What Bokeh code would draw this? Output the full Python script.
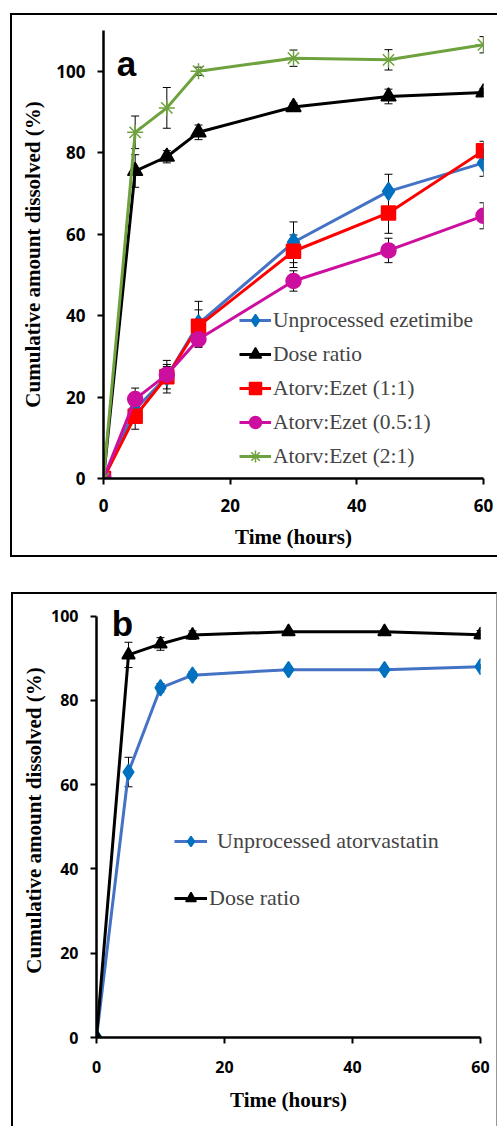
from math import pi
from bokeh.plotting import figure
from bokeh.models import (ColumnDataSource, Whisker, TeeHead, Legend, LegendItem,
                          FixedTicker, Range1d, Label, Spacer, InlineStyleSheet)
from bokeh.layouts import column, row
from bokeh.embed import file_html
from bokeh.resources import INLINE

# ---------------- data ----------------
time_h = [0, 5, 10, 15, 30, 45, 60]

# panel a : ezetimibe
eze_unprocessed = [0, 17, 25, 38, 58, 70.5, 77.5]
eze_unprocessed_err = [0, 3, 3, 5.5, 5, 4.2, 3.3]
eze_dose = [0, 75.5, 79, 85, 91.2, 93.8, 94.8]
eze_dose_err = [0, 4, 1.5, 1.8, 1, 1.8, 1]
eze_1_1 = [0, 15.3, 25, 37.4, 55.8, 65.2, 80.5]
eze_1_1_err = [0, 3.2, 4, 4, 4, 5, 2.3]
eze_05_1 = [0, 19.5, 25.5, 34.2, 48.5, 56, 64.5]
eze_05_1_err = [0, 2.7, 2, 2, 2.5, 3, 3.2]
eze_2_1 = [0, 85, 91, 100, 103.2, 102.8, 106.5]
eze_2_1_err = [0, 4, 5, 1, 2, 2.5, 2]

# panel b : atorvastatin
ator_unprocessed = [0, 63, 83, 86, 87.3, 87.3, 88]
ator_unprocessed_err = [0, 3.5, 1, 0.8, 0.5, 0.5, 0.5]
ator_dose = [0, 90.8, 93.4, 95.5, 96.3, 96.3, 95.6]
ator_dose_err = [0, 3, 1.5, 1, 0.5, 0.5, 1]

x_ticks = [0, 20, 40, 60]
y_ticks = [0, 20, 40, 60, 80, 100]

SERIF = "Liberation Serif"
SANS = "Open Sans"


def style_axes(p, tick_size, y_std, y_lab_std, x_std, x_lab_std):
    for ax in (p.xaxis[0], p.yaxis[0]):
        ax.axis_line_color = "black"
        ax.axis_line_width = 2.5
        ax.major_tick_line_color = "black"
        ax.major_tick_line_width = 2
        ax.major_tick_out = 6
        ax.major_tick_in = 0
        ax.minor_tick_line_color = None
        ax.major_label_text_font = SANS
        ax.major_label_text_font_style = "bold"
        ax.major_label_text_font_size = tick_size
        ax.major_label_text_color = "black"
        ax.axis_label_text_font = SERIF
        ax.axis_label_text_font_style = "bold"
        ax.axis_label_text_font_size = "21px"
        ax.axis_label_text_color = "black"
    p.xaxis.ticker = FixedTicker(ticks=x_ticks)
    p.yaxis.ticker = FixedTicker(ticks=y_ticks)
    p.xaxis.major_label_standoff = x_std
    p.yaxis.major_label_standoff = y_std
    p.xaxis.axis_label_standoff = x_lab_std
    p.yaxis.axis_label_standoff = y_lab_std
    p.xgrid.grid_line_color = None
    p.ygrid.grid_line_color = None
    p.outline_line_color = None
    p.background_fill_color = "white"
    p.border_fill_color = "white"


def add_series(p, y, err, line_color, marker, fill, size, lw=3):
    src = ColumnDataSource(dict(x=time_h, y=y))
    ex = [t for t, e in zip(time_h, err) if e > 0]
    ey = [v for v, e in zip(y, err) if e > 0]
    ee = [e for e in err if e > 0]
    esrc = ColumnDataSource(dict(x=ex, lo=[a - b for a, b in zip(ey, ee)],
                                 hi=[a + b for a, b in zip(ey, ee)]))
    r_line = p.line("x", "y", source=src, line_color=line_color, line_width=lw)
    r_mark = p.scatter("x", "y", source=src, marker=marker, size=size,
                       fill_color=fill, line_color=fill, line_width=1.5)
    w = Whisker(base="x", lower="lo", upper="hi", source=esrc,
                line_color="black", line_width=1,
                upper_head=TeeHead(size=8, line_color="black", line_width=1),
                lower_head=TeeHead(size=8, line_color="black", line_width=1))
    p.add_layout(w)
    return [r_line, r_mark]


# ---------------- panel a ----------------
pa = figure(width=487, height=544, x_range=Range1d(0, 60), y_range=Range1d(0, 110),
            output_backend="svg", toolbar_location=None,
            min_border_left=91, min_border_right=16, min_border_top=15, min_border_bottom=81,
            x_axis_label="Time (hours)", y_axis_label="Cumulative amount dissolved (%)")
pa.stylesheets = [InlineStyleSheet(css=":host { border: 2px solid black; border-right: none; box-sizing: border-box; }")]
style_axes(pa, "17px", y_std=12, y_lab_std=8, x_std=14, x_lab_std=10)
pa.yaxis.bounds = (0, 110)

ra1 = add_series(pa, eze_unprocessed, eze_unprocessed_err, "#4472C4", "diamond", "#0070C0", 18)
ra2 = add_series(pa, eze_dose, eze_dose_err, "black", "triangle", "black", 15)
ra3 = add_series(pa, eze_1_1, eze_1_1_err, "#FF0000", "square", "#FF0000", 14)
ra4 = add_series(pa, eze_05_1, eze_05_1_err, "#CC0F9E", "circle", "#CC0F9E", 15)
ra5 = add_series(pa, eze_2_1, eze_2_1_err, "#6EA23E", "asterisk", "#6EA23E", 16)

leg_a = Legend(items=[
    LegendItem(label="Unprocessed ezetimibe", renderers=ra1),
    LegendItem(label="Dose ratio", renderers=ra2),
    LegendItem(label="Atorv:Ezet (1:1)", renderers=ra3),
    LegendItem(label="Atorv:Ezet (0.5:1)", renderers=ra4),
    LegendItem(label="Atorv:Ezet (2:1)", renderers=ra5),
], location=(136, 7), padding=0, margin=0, spacing=4, glyph_width=32, glyph_height=30,
    label_standoff=2, label_text_font=SERIF, label_text_font_size="21.5px",
    background_fill_alpha=0, border_line_color=None)
pa.add_layout(leg_a)
pa.add_layout(Label(x=2.1, y=101.8, text="a", text_font="Liberation Sans", text_font_style="bold",
                    text_baseline="alphabetic", text_font_size="35px", text_color="black"))

# ---------------- panel b ----------------
pb = figure(width=486, height=534, x_range=Range1d(0, 60), y_range=Range1d(0, 103),
            output_backend="svg", toolbar_location=None,
            min_border_left=83, min_border_right=19, min_border_top=9, min_border_bottom=91,
            x_axis_label="Time (hours)", y_axis_label="Cumulative amount dissolved (%)")
pb.stylesheets = [InlineStyleSheet(css=":host { border-left: 2px solid black; border-top: 2px solid black; border-right: 1px solid #999; box-sizing: border-box; }")]
style_axes(pb, "16px", y_std=12, y_lab_std=2, x_std=17, x_lab_std=12)
pb.yaxis.bounds = (0, 100)

rb1 = add_series(pb, ator_unprocessed, ator_unprocessed_err, "#4472C4", "diamond", "#0070C0", 16)
rb2 = add_series(pb, ator_dose, ator_dose_err, "black", "triangle", "black", 13)

leg_b1 = Legend(items=[LegendItem(label="Unprocessed atorvastatin", renderers=rb1)],
                location=(78, 183), padding=0, margin=0, glyph_width=33, glyph_height=26,
                label_standoff=10, label_text_font=SERIF, label_text_font_size="22px",
                background_fill_alpha=0, border_line_color=None)
leg_b2 = Legend(items=[LegendItem(label="Dose ratio", renderers=rb2)],
                location=(78, 126), padding=0, margin=0, glyph_width=33, glyph_height=26,
                label_standoff=2, label_text_font=SERIF, label_text_font_size="22px",
                background_fill_alpha=0, border_line_color=None)
pb.add_layout(leg_b1)
pb.add_layout(leg_b2)
pb.add_layout(Label(x=2.4, y=98.2, text="b", text_font="Liberation Sans", text_font_style="bold",
                    text_baseline="alphabetic", text_font_size="35px", text_color="black"))

layout = column(Spacer(height=13),
                row(Spacer(width=10), pa, spacing=0),
                Spacer(height=35),
                row(Spacer(width=11), pb, spacing=0),
                spacing=0)
open("out.html", "w").write(file_html(layout, INLINE))
